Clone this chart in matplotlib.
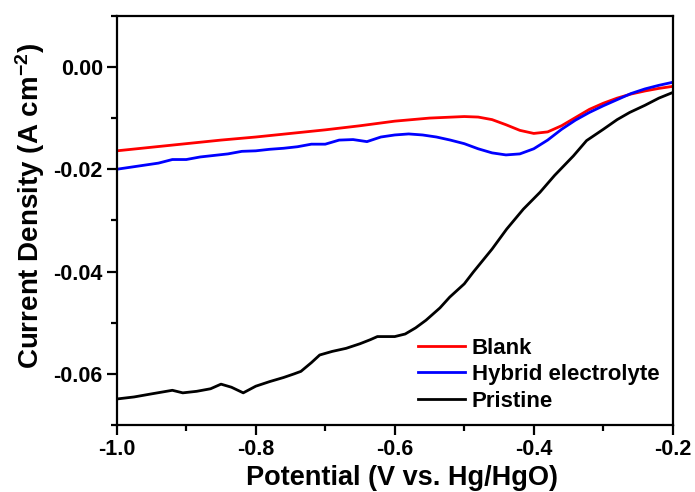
import matplotlib
matplotlib.use("Agg")
import matplotlib.pyplot as plt
from matplotlib.ticker import MultipleLocator

plt.rcParams['font.family'] = ['Liberation Sans', 'DejaVu Sans']
plt.rcParams['font.weight'] = 'bold'
plt.rcParams['mathtext.fontset'] = 'custom'
plt.rcParams['mathtext.rm'] = 'Liberation Sans:bold'
plt.rcParams['mathtext.bf'] = 'Liberation Sans:bold'
plt.rcParams['mathtext.default'] = 'bf'

# Blank
blank_x = [-1.00, -0.95, -0.90, -0.85, -0.80, -0.75, -0.70, -0.65, -0.60, -0.55,
           -0.50, -0.48, -0.46, -0.44, -0.42, -0.40, -0.38, -0.36, -0.34, -0.32,
           -0.30, -0.28, -0.26, -0.24, -0.22, -0.20]
blank_y = [-0.0164, -0.0157, -0.0150, -0.0143, -0.0137, -0.0130, -0.0123, -0.0115, -0.0106, -0.0100,
           -0.0097, -0.0098, -0.0103, -0.0113, -0.0124, -0.0130, -0.0127, -0.0115, -0.0099, -0.0083,
           -0.0071, -0.0061, -0.0053, -0.0047, -0.0042, -0.0038]

# Hybrid electrolyte
hybrid_x = [-1.00, -0.98, -0.96, -0.94, -0.92, -0.90, -0.88, -0.86, -0.84, -0.82,
            -0.80, -0.78, -0.76, -0.74, -0.72, -0.70, -0.68, -0.66, -0.64, -0.62,
            -0.60, -0.58, -0.56, -0.54, -0.52, -0.50, -0.48, -0.46, -0.44, -0.42,
            -0.40, -0.38, -0.36, -0.34, -0.32, -0.30, -0.28, -0.26, -0.24, -0.22, -0.20]
hybrid_y = [-0.0200, -0.0196, -0.0192, -0.0188, -0.0181, -0.0181, -0.0176, -0.0173, -0.0170, -0.0165,
            -0.0164, -0.0161, -0.0159, -0.0156, -0.0151, -0.0151, -0.0143, -0.0142, -0.0146, -0.0137,
            -0.0133, -0.0131, -0.0133, -0.0137, -0.0143, -0.0150, -0.0160, -0.0168, -0.0172, -0.0170,
            -0.0160, -0.0143, -0.0122, -0.0104, -0.0089, -0.0076, -0.0064, -0.0052, -0.0043, -0.0036, -0.0030]

# Pristine
pristine_x = [-1.00, -0.975, -0.95, -0.92, -0.905, -0.885, -0.865, -0.85, -0.835, -0.818,
              -0.80, -0.78, -0.76, -0.745, -0.735, -0.72, -0.708, -0.69, -0.67, -0.65,
              -0.635, -0.625, -0.60, -0.585, -0.57, -0.555, -0.545, -0.535, -0.521, -0.50,
              -0.487, -0.46, -0.439, -0.415, -0.391, -0.37, -0.343, -0.324, -0.30, -0.28,
              -0.262, -0.24, -0.22, -0.20]
pristine_y = [-0.0649, -0.0645, -0.0639, -0.0632, -0.0637, -0.0634, -0.0629, -0.0620, -0.0626, -0.0637,
              -0.0624, -0.0615, -0.0607, -0.0600, -0.0595, -0.0578, -0.0563, -0.0556, -0.0550, -0.0541,
              -0.0533, -0.0527, -0.0527, -0.0522, -0.0510, -0.0495, -0.0483, -0.0471, -0.0450, -0.0424,
              -0.0401, -0.0356, -0.0317, -0.0278, -0.0245, -0.0212, -0.0174, -0.0144, -0.0122, -0.0103,
              -0.0089, -0.0075, -0.0061, -0.0050]

fig = plt.figure(figsize=(6.95, 4.92), dpi=100)
ax = fig.add_axes([0.168, 0.136, 0.800, 0.832])

ax.plot(blank_x, blank_y, color='#ff0000', lw=2.0, label='Blank')
ax.plot(hybrid_x, hybrid_y, color='#0000ff', lw=2.0, label='Hybrid electrolyte')
ax.plot(pristine_x, pristine_y, color='black', lw=2.0, label='Pristine')

ax.set_xlim(-1.0, -0.2)
ax.set_ylim(-0.07, 0.01)
ax.xaxis.set_minor_locator(MultipleLocator(0.1))
ax.yaxis.set_minor_locator(MultipleLocator(0.01))
ax.set_xticks([-1.0, -0.8, -0.6, -0.4, -0.2])
ax.set_xticklabels(['-1.0', '-0.8', '-0.6', '-0.4', '-0.2'])
ax.set_yticks([0.0, -0.02, -0.04, -0.06])
ax.set_yticklabels(['0.00', '-0.02', '-0.04', '-0.06'])

for s in ax.spines.values():
    s.set_linewidth(1.6)
ax.tick_params(which='major', direction='out', length=7, width=1.6, labelsize=15.5, pad=3)
ax.tick_params(which='minor', direction='out', length=4, width=1.6)
for lab in ax.get_xticklabels() + ax.get_yticklabels():
    lab.set_fontweight('bold')

ax.set_xlabel('Potential (V vs. Hg/HgO)', fontsize=19.5, fontweight='bold')
ax.xaxis.set_label_coords(0.513, -0.098)
ax.set_ylabel(r'Current Density (A cm$^{-2}$)', fontsize=20, fontweight='bold')
ax.yaxis.set_label_coords(-0.126, 0.535)

leg = ax.legend(loc='lower right', frameon=False, handlelength=2.1,
                handletextpad=0.3, labelspacing=0.25, borderaxespad=0.2,
                prop={'weight': 'bold', 'size': 16})

fig.savefig('out.png', dpi=100)
